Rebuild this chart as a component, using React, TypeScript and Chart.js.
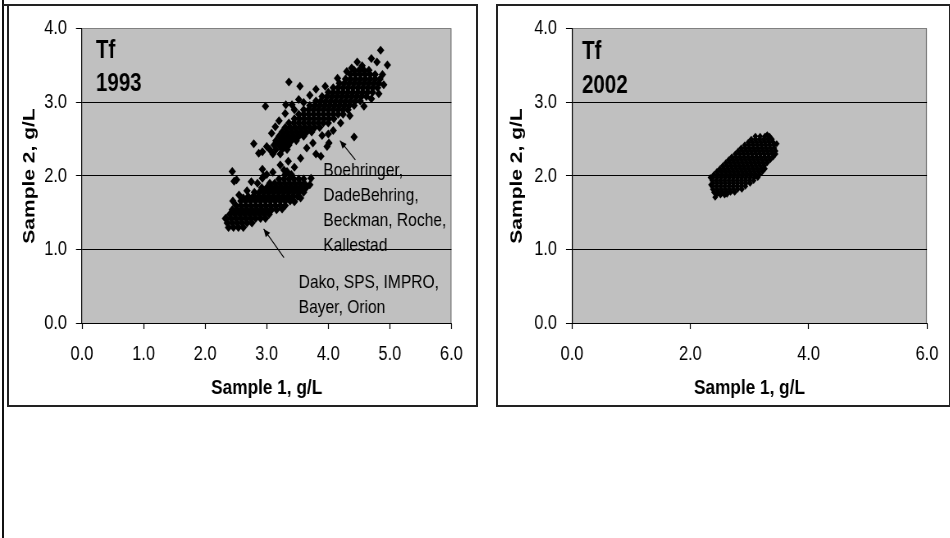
import { useEffect, useRef } from "react";
import { Chart, registerables } from "chart.js";

Chart.register(...registerables);

const SANS = "'Liberation Sans', Arial, sans-serif";

// ---- texts ----
const analyte = "Tf";
const year1993 = "1993";
const year2002 = "2002";
const xAxisTitle = "Sample 1, g/L";
const yAxisTitle = "Sample 2, g/L";
const upperGroupLabel = ["Boehringer,", "DadeBehring,", "Beckman, Roche,", "Kallestad"];
const lowerGroupLabel = ["Dako, SPS, IMPRO,", "Bayer, Orion"];

// ---- tick values ----
const yTickValues = [0, 1, 2, 3, 4];
const xTickValues1993 = [0, 1, 2, 3, 4, 5, 6];
const xTickValues2002 = [0, 2, 4, 6];

// ---- 1993 data: upper group (Boehringer, DadeBehring, Beckman, Roche, Kallestad) ----
// rows: [sample 2 value, sample 1 values]
const tf1993UpperRows: [number, number[]][] = [
  [2.30, [3.10, 3.22]],
  [2.36, [3.05, 3.15, 3.25, 3.33]],
  [2.42, [3.12, 3.20, 3.28, 3.36]],
  [2.48, [3.15, 3.24, 3.32, 3.40, 3.48]],
  [2.54, [3.20, 3.28, 3.36, 3.44, 3.52, 3.60]],
  [2.60, [3.25, 3.33, 3.41, 3.49, 3.57, 3.65, 3.73]],
  [2.66, [3.30, 3.38, 3.46, 3.54, 3.62, 3.70, 3.78, 3.86]],
  [2.72, [3.36, 3.44, 3.52, 3.60, 3.68, 3.76, 3.84, 3.92, 4.00]],
  [2.78, [3.45, 3.53, 3.61, 3.69, 3.77, 3.85, 3.93, 4.01, 4.09]],
  [2.84, [3.52, 3.60, 3.68, 3.76, 3.84, 3.92, 4.00, 4.08, 4.16, 4.24]],
  [2.90, [3.60, 3.68, 3.76, 3.84, 3.92, 4.00, 4.08, 4.16, 4.24, 4.32]],
  [2.96, [3.70, 3.78, 3.86, 3.94, 4.02, 4.10, 4.18, 4.26, 4.34, 4.42]],
  [3.02, [3.80, 3.88, 3.96, 4.04, 4.12, 4.20, 4.28, 4.36, 4.44, 4.52]],
  [3.08, [3.90, 3.98, 4.06, 4.14, 4.22, 4.30, 4.38, 4.46, 4.54, 4.62]],
  [3.14, [4.00, 4.08, 4.16, 4.24, 4.32, 4.40, 4.48, 4.56, 4.64, 4.72]],
  [3.20, [4.08, 4.16, 4.24, 4.32, 4.40, 4.48, 4.56, 4.64, 4.72, 4.80]],
  [3.26, [4.18, 4.26, 4.34, 4.42, 4.50, 4.58, 4.66, 4.74, 4.82]],
  [3.32, [4.28, 4.36, 4.44, 4.52, 4.60, 4.68, 4.76, 4.84]],
  [3.38, [4.36, 4.44, 4.52, 4.60, 4.68, 4.76]],
  [3.44, [4.42, 4.50, 4.58, 4.66]],
];
const tf1993UpperScattered: [number, number][] = [
  [4.85, 3.71], [4.79, 3.55], [4.96, 3.51], [4.47, 3.55], [4.55, 3.50], [4.38, 3.47],
  [4.90, 3.24], [4.88, 3.38], [4.70, 3.60], [4.30, 3.42], [4.15, 3.33], [3.95, 3.22],
  [3.80, 3.18], [3.70, 3.10], [3.36, 3.28], [3.54, 3.22], [2.98, 2.95], [3.31, 2.97],
  [3.41, 2.97], [3.52, 3.04], [3.60, 3.00], [3.45, 2.90], [3.30, 2.85], [3.20, 2.75],
  [3.14, 2.67], [3.08, 2.58], [2.79, 2.44], [2.87, 2.31], [2.93, 2.33], [3.00, 2.40],
  [3.22, 2.15], [3.55, 2.24], [3.80, 2.30], [3.88, 2.27], [3.98, 2.40], [4.01, 2.45],
  [4.00, 2.57], [4.42, 2.53], [3.75, 2.45], [3.65, 2.38], [3.90, 2.55], [4.20, 2.72],
  [4.35, 2.82], [4.58, 2.95], [4.70, 3.05], [4.82, 3.12], [4.08, 2.62], [3.35, 2.20],
  [3.45, 2.12], [3.28, 2.08], [2.93, 2.09], [2.95, 2.00], [2.44, 2.06], [2.51, 1.95],
];

// ---- 1993 data: lower group (Dako, SPS, IMPRO, Bayer, Orion) ----
const tf1993LowerRows: [number, number[]][] = [
  [1.30, [2.38, 2.46, 2.54, 2.62]],
  [1.36, [2.36, 2.44, 2.52, 2.60, 2.68, 2.76]],
  [1.42, [2.34, 2.42, 2.50, 2.58, 2.66, 2.74, 2.82, 2.90, 2.98]],
  [1.48, [2.40, 2.48, 2.56, 2.64, 2.72, 2.80, 2.88, 2.96, 3.04]],
  [1.54, [2.44, 2.52, 2.60, 2.68, 2.76, 2.84, 2.92, 3.00, 3.08, 3.16]],
  [1.60, [2.50, 2.58, 2.66, 2.74, 2.82, 2.90, 2.98, 3.06, 3.14, 3.22, 3.30]],
  [1.66, [2.58, 2.66, 2.74, 2.82, 2.90, 2.98, 3.06, 3.14, 3.22, 3.30, 3.38]],
  [1.72, [2.70, 2.78, 2.86, 2.94, 3.02, 3.10, 3.18, 3.26, 3.34, 3.42, 3.50]],
  [1.78, [2.80, 2.88, 2.96, 3.04, 3.12, 3.20, 3.28, 3.36, 3.44, 3.52, 3.60]],
  [1.84, [2.92, 3.00, 3.08, 3.16, 3.24, 3.32, 3.40, 3.48, 3.56, 3.64]],
  [1.90, [3.05, 3.13, 3.21, 3.29, 3.37, 3.45, 3.53, 3.61]],
  [1.96, [3.20, 3.28, 3.36, 3.44, 3.52, 3.60]],
  [2.02, [3.30, 3.40]],
];
const tf1993LowerScattered: [number, number][] = [
  [2.47, 1.93], [2.68, 1.80], [2.55, 1.74], [2.62, 1.70], [2.45, 1.66], [2.93, 1.97],
  [3.33, 2.06], [3.45, 1.65], [3.55, 1.70], [3.70, 1.88], [3.72, 1.97], [3.25, 1.55],
  [2.85, 1.90], [3.00, 2.02], [3.10, 2.05], [2.75, 1.92], [2.33, 1.42],
];

// ---- 2002 data ----
const tf2002Rows: [number, number[]][] = [
  [1.74, [2.44, 2.51, 2.58]],
  [1.78, [2.40, 2.47, 2.54, 2.61, 2.68, 2.75]],
  [1.82, [2.38, 2.45, 2.52, 2.59, 2.66, 2.73, 2.80, 2.87]],
  [1.86, [2.37, 2.44, 2.51, 2.58, 2.65, 2.72, 2.79, 2.86, 2.93]],
  [1.90, [2.38, 2.45, 2.52, 2.59, 2.66, 2.73, 2.80, 2.87, 2.94, 3.01]],
  [1.94, [2.37, 2.44, 2.51, 2.58, 2.65, 2.72, 2.79, 2.86, 2.93, 3.00, 3.07]],
  [1.98, [2.38, 2.45, 2.52, 2.59, 2.66, 2.73, 2.80, 2.87, 2.94, 3.01, 3.08, 3.14]],
  [2.02, [2.40, 2.47, 2.54, 2.61, 2.68, 2.75, 2.82, 2.89, 2.96, 3.03, 3.10, 3.17]],
  [2.06, [2.45, 2.52, 2.59, 2.66, 2.73, 2.80, 2.87, 2.94, 3.01, 3.08, 3.15, 3.22]],
  [2.10, [2.50, 2.57, 2.64, 2.71, 2.78, 2.85, 2.92, 2.99, 3.06, 3.13, 3.20, 3.26]],
  [2.14, [2.55, 2.62, 2.69, 2.76, 2.83, 2.90, 2.97, 3.04, 3.11, 3.18, 3.25]],
  [2.18, [2.60, 2.67, 2.74, 2.81, 2.88, 2.95, 3.02, 3.09, 3.16, 3.23, 3.30]],
  [2.22, [2.65, 2.72, 2.79, 2.86, 2.93, 3.00, 3.07, 3.14, 3.21, 3.28, 3.35]],
  [2.26, [2.70, 2.77, 2.84, 2.91, 2.98, 3.05, 3.12, 3.19, 3.26, 3.33, 3.40]],
  [2.30, [2.76, 2.83, 2.90, 2.97, 3.04, 3.11, 3.18, 3.25, 3.32, 3.39, 3.44]],
  [2.34, [2.81, 2.88, 2.95, 3.02, 3.09, 3.16, 3.23, 3.30, 3.37, 3.44]],
  [2.38, [2.86, 2.93, 3.00, 3.07, 3.14, 3.21, 3.28, 3.35, 3.42]],
  [2.42, [2.92, 2.99, 3.06, 3.13, 3.20, 3.27, 3.34, 3.41]],
  [2.46, [2.98, 3.05, 3.12, 3.19, 3.26, 3.33, 3.40]],
  [2.50, [3.03, 3.10, 3.17, 3.24, 3.31, 3.38]],
  [2.54, [3.10, 3.18, 3.26, 3.34]],
];
const tf2002Scattered: [number, number][] = [
  [2.34, 1.98], [2.42, 1.71], [3.46, 2.44], [3.30, 2.56], [2.62, 1.75], [2.35, 1.88],
];

// ---- annotation anchors (data units) ----
const upperLabelAnchor: [number, number] = [3.92, 2.0];
const lowerLabelAnchor: [number, number] = [3.52, 0.47];
const upperArrow: [number, number][] = [[4.44, 2.22], [4.19, 2.48]];
const lowerArrow: [number, number][] = [[3.28, 0.89], [2.95, 1.28]];

// ---- layout (px) ----
// The reference picture is horizontally condensed; each canvas is drawn wider
// and squeezed with a CSS scaleX so text and markers look the same way.
const SQUEEZE = 0.82;
const PANEL_TOP = 4;
const PANEL_H = 403;
const CANVAS_TOP = 6;
const CANVAS_H = 398;
const PLOT_TOP = 17; // in canvas
const PLOT_BOTTOM = 317; // in canvas
const X_SCALE_H = 78;
const u = (px: number) => px / SQUEEZE; // page px -> canvas px (horizontal)

function toPoints(rows: [number, number[]][], extra: [number, number][]) {
  const pts: { x: number; y: number }[] = [];
  rows.forEach(([y, xs]) => xs.forEach((x) => pts.push({ x, y })));
  extra.forEach(([x, y]) => pts.push({ x, y }));
  return pts;
}

function drawArrow(ctx: CanvasRenderingContext2D, x0: number, y0: number, x1: number, y1: number) {
  ctx.beginPath();
  ctx.moveTo(x0, y0);
  ctx.lineTo(x1, y1);
  ctx.strokeStyle = "#000";
  ctx.lineWidth = 1.1;
  ctx.stroke();
  const ang = Math.atan2(y1 - y0, x1 - x0);
  const L = 8;
  const W = 3.5;
  ctx.beginPath();
  ctx.moveTo(x1, y1);
  ctx.lineTo(x1 - L * Math.cos(ang) + W * Math.sin(ang), y1 - L * Math.sin(ang) - W * Math.cos(ang));
  ctx.lineTo(x1 - L * Math.cos(ang) - W * Math.sin(ang), y1 - L * Math.sin(ang) + W * Math.cos(ang));
  ctx.closePath();
  ctx.fillStyle = "#000";
  ctx.fill();
}

function makePlugin(year: string, tfDx: number, tfDy: number, yearDy: number, annotate: boolean) {
  return {
    id: "decor",
    beforeDraw(chart: any) {
      const { ctx, chartArea: a } = chart;
      ctx.save();
      ctx.fillStyle = "#C0C0C0";
      ctx.fillRect(a.left, a.top, a.right - a.left, a.bottom - a.top);
      ctx.strokeStyle = "#808080";
      ctx.lineWidth = u(1);
      ctx.beginPath();
      const rx = a.right - u(0.5);
      ctx.moveTo(rx, a.top);
      ctx.lineTo(rx, a.bottom);
      ctx.stroke();
      ctx.restore();
    },
    afterDraw(chart: any) {
      const { ctx, chartArea: a, scales } = chart;
      const sx = scales.x;
      const sy = scales.y;
      ctx.save();
      ctx.fillStyle = "#000";
      ctx.textAlign = "left";
      ctx.textBaseline = "alphabetic";
      ctx.font = `bold 25px ${SANS}`;
      ctx.fillText(analyte, a.left + u(tfDx), a.top + tfDy);
      ctx.fillText(year, a.left + u(tfDx), a.top + yearDy);
      if (annotate) {
        ctx.font = `19px ${SANS}`;
        const ux = sx.getPixelForValue(upperLabelAnchor[0]);
        const uy = sy.getPixelForValue(upperLabelAnchor[1]);
        upperGroupLabel.forEach((t, i) => ctx.fillText(t, ux, uy + i * 25));
        const lx = sx.getPixelForValue(lowerLabelAnchor[0]);
        const ly = sy.getPixelForValue(lowerLabelAnchor[1]);
        lowerGroupLabel.forEach((t, i) => ctx.fillText(t, lx, ly + i * 24.5));
        [upperArrow, lowerArrow].forEach((arr) => {
          drawArrow(
            ctx,
            sx.getPixelForValue(arr[0][0]),
            sy.getPixelForValue(arr[0][1]),
            sx.getPixelForValue(arr[1][0]),
            sy.getPixelForValue(arr[1][1])
          );
        });
      }
      ctx.restore();
    },
  };
}

function makeConfig(
  datasets: any[],
  xTicks: number[],
  yAxisWidth: number,
  rightPad: number,
  yTitlePad: number,
  plugin: any
): any {
  return {
    type: "scatter",
    data: { datasets },
    plugins: [plugin],
    options: {
      responsive: false,
      animation: false,
      events: [],
      layout: {
        padding: { top: PLOT_TOP, right: rightPad, bottom: CANVAS_H - PLOT_BOTTOM - X_SCALE_H, left: 0 },
      },
      plugins: { legend: { display: false }, tooltip: { enabled: false } },
      scales: {
        x: {
          type: "linear",
          position: "bottom",
          min: xTicks[0],
          max: xTicks[xTicks.length - 1],
          afterBuildTicks: (s: any) => {
            s.ticks = xTicks.map((v) => ({ value: v }));
          },
          afterFit: (s: any) => {
            s.height = X_SCALE_H;
          },
          ticks: {
            autoSkip: false,
            maxRotation: 0,
            padding: 13,
            color: "#000",
            font: { family: SANS, size: 20 },
            callback: (v: any) => Number(v).toFixed(1),
          },
          grid: { drawOnChartArea: false, drawTicks: true, tickLength: 6, tickColor: "#000", tickWidth: u(1) },
          border: { display: true, color: "#000", width: 1 },
          title: {
            display: true,
            text: xAxisTitle,
            color: "#000",
            padding: 0,
            font: { family: SANS, size: 21, weight: "bold" },
          },
        },
        y: {
          type: "linear",
          position: "left",
          min: yTickValues[0],
          max: yTickValues[yTickValues.length - 1],
          afterBuildTicks: (s: any) => {
            s.ticks = yTickValues.map((v) => ({ value: v }));
          },
          afterFit: (s: any) => {
            s.width = yAxisWidth;
          },
          ticks: {
            autoSkip: false,
            padding: u(9),
            color: "#000",
            font: { family: SANS, size: 20 },
            callback: (v: any) => Number(v).toFixed(1),
          },
          grid: {
            drawOnChartArea: true,
            drawTicks: true,
            tickLength: u(6),
            tickColor: "#000",
            lineWidth: 1,
            color: (c: any) => (c.tick && c.tick.value === 4 ? "#808080" : "#000"),
          },
          border: { display: true, color: "#000", width: u(1) },
          title: {
            display: true,
            text: yAxisTitle,
            color: "#000",
            padding: { top: yTitlePad, bottom: 0 },
            font: { family: SANS, size: 21, weight: "bold" },
          },
        },
      },
    },
  };
}

export default function App() {
  const leftRef = useRef<HTMLCanvasElement>(null);
  const rightRef = useRef<HTMLCanvasElement>(null);

  useEffect(() => {
    const marker = (data: any[], r: number) => ({
      data,
      pointStyle: "rectRot",
      pointRadius: r,
      backgroundColor: "#000",
      borderColor: "#000",
      borderWidth: 0,
    });
    const left = new Chart(
      leftRef.current as HTMLCanvasElement,
      makeConfig(
        [
          marker(toPoints(tf1993UpperRows, tf1993UpperScattered), 4.5),
          marker(toPoints(tf1993LowerRows, tf1993LowerScattered), 4.5),
        ],
        xTickValues1993,
        u(73),
        u(467) - u(442),
        u(10),
        makePlugin(year1993, 14, 29, 62, true)
      )
    );
    const right = new Chart(
      rightRef.current as HTMLCanvasElement,
      makeConfig(
        [marker(toPoints(tf2002Rows, tf2002Scattered), 3.5)],
        xTickValues2002,
        u(74),
        u(451) - u(433),
        u(9),
        makePlugin(year2002, 10, 30, 64, false)
      )
    );
    return () => {
      left.destroy();
      right.destroy();
    };
  }, []);

  const canvasStyle = (left: number): any => ({
    position: "absolute",
    left,
    top: CANVAS_TOP,
    display: "block",
    transform: `scaleX(${SQUEEZE})`,
    transformOrigin: "0 0",
  });

  return (
    <div
      style={{
        position: "absolute",
        left: 0,
        top: 0,
        width: 950,
        height: 538,
        background: "#fff",
        overflow: "hidden",
      }}
    >
      <div style={{ position: "absolute", left: 2, top: 0, width: 2, height: 538, background: "#111" }} />
      <div style={{ position: "absolute", left: 3, top: PANEL_TOP, width: 6, height: 2, background: "#222" }} />
      <div
        style={{
          position: "absolute",
          left: 7,
          top: PANEL_TOP,
          width: 471,
          height: PANEL_H,
          border: "2px solid #222",
          boxSizing: "border-box",
        }}
      />
      <div
        style={{
          position: "absolute",
          left: 496,
          top: PANEL_TOP,
          width: 455,
          height: PANEL_H,
          border: "2px solid #222",
          boxSizing: "border-box",
        }}
      />
      <canvas ref={leftRef} width={Math.round(u(467))} height={CANVAS_H} style={canvasStyle(9)} />
      <canvas ref={rightRef} width={Math.round(u(451))} height={CANVAS_H} style={canvasStyle(498)} />
    </div>
  );
}
